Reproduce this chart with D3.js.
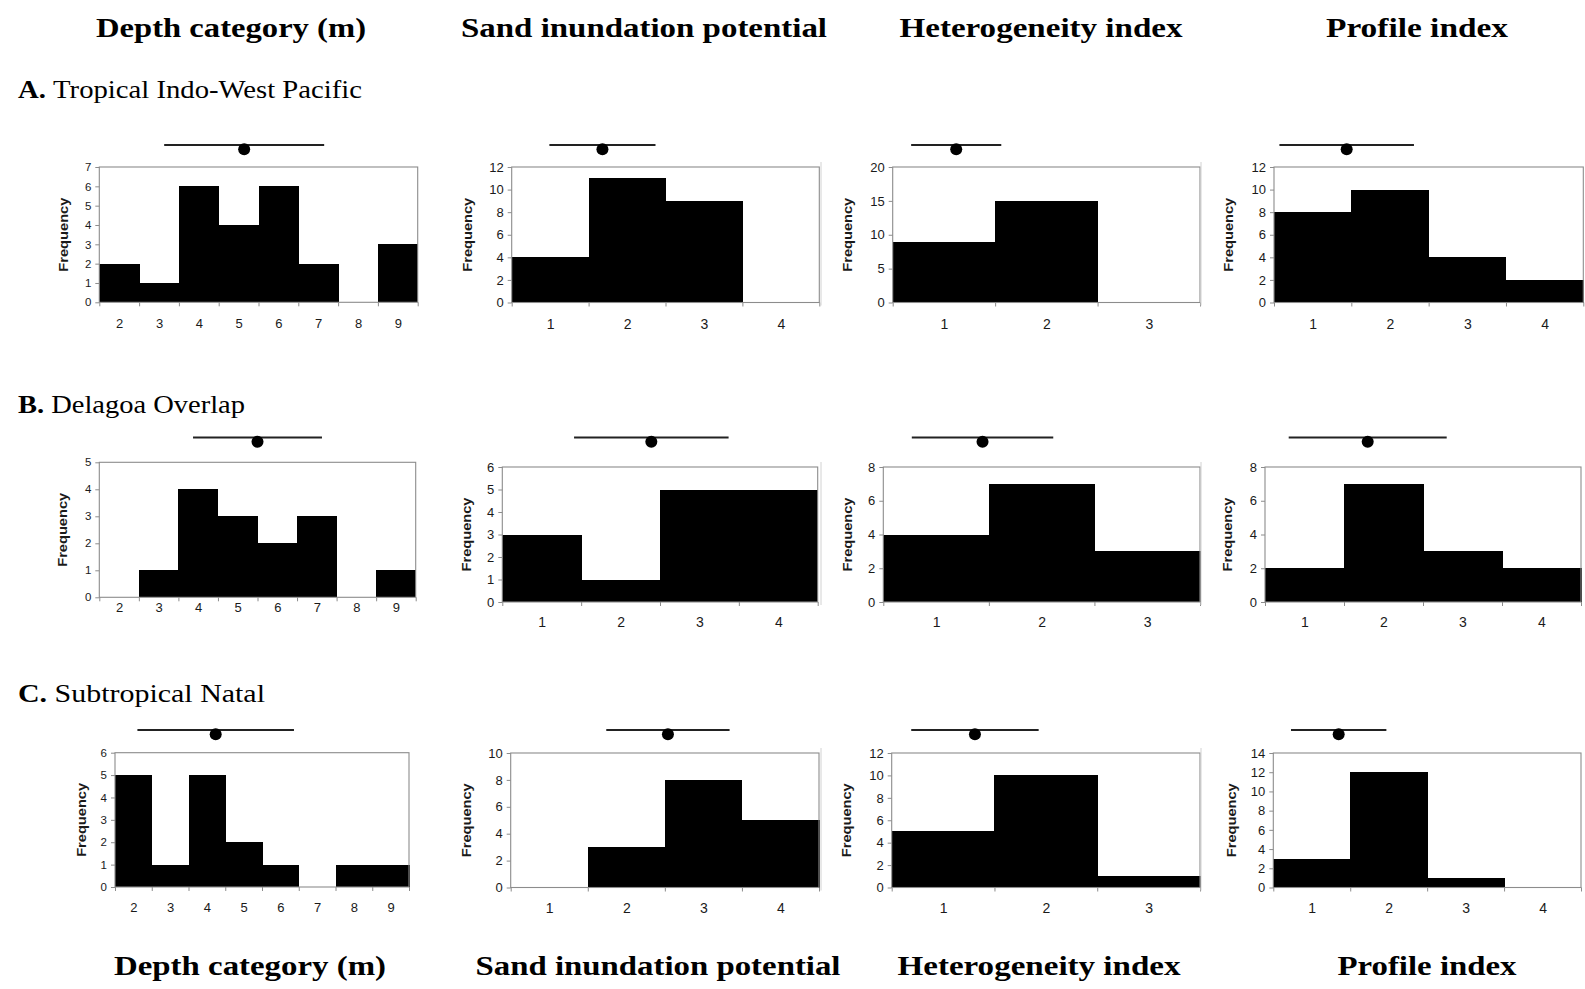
<!DOCTYPE html>
<html>
<head>
<meta charset="utf-8">
<script src="https://cdn.jsdelivr.net/npm/d3@7/dist/d3.min.js"></script>
<style>
  html, body { margin: 0; padding: 0; background: #fff; }
  svg { display: block; }
</style>
</head>
<body>
<svg id="chart" width="1585" height="989"></svg>
<script>
// ---- Data -------------------------------------------------------------
const regionLetters = ["A.", "B.", "C."];
const regionNames = ["Tropical Indo-West Pacific", "Delagoa Overlap", "Subtropical Natal"];
const variableNames = ["Depth category (m)", "Sand inundation potential", "Heterogeneity index", "Profile index"];

const depthCategories = [2, 3, 4, 5, 6, 7, 8, 9];
const sandCategories = [1, 2, 3, 4];
const heteroCategories = [1, 2, 3];
const profileCategories = [1, 2, 3, 4];

// frequencies per region (rows A, B, C)
const depthFreq = [[2, 1, 6, 4, 6, 2, 0, 3], [0, 1, 4, 3, 2, 3, 0, 1], [5, 1, 5, 2, 1, 0, 1, 1]];
const sandFreq = [[4, 11, 9, 0], [3, 1, 5, 5], [0, 3, 8, 5]];
const heteroFreq = [[9, 15, 0], [4, 7, 3], [5, 10, 1]];
const profileFreq = [[8, 10, 4, 2], [2, 7, 3, 2], [3, 12, 1, 0]];

// mean and standard deviation per region
const depthMean = [5.14, 5.50, 4.24];
const depthSD = [2.01, 1.63, 2.13];
const sandMean = [1.68, 2.39, 2.54];
const sandSD = [0.69, 0.98, 0.80];
const heteroMean = [1.12, 1.44, 1.31];
const heteroSD = [0.44, 0.67, 0.62];
const profileMean = [1.44, 1.80, 1.35];
const profileSD = [0.87, 1.00, 0.62];

// y-axis extent and tick step per panel
const yMax = [[7, 12, 20, 12], [5, 6, 8, 8], [6, 10, 12, 14]];
const yStep = [[1, 2, 5, 2], [1, 1, 2, 2], [1, 2, 2, 2]];

// ---- Layout -----------------------------------------------------------
const rowBoxes = [
  { top: 167, bottom: 302.5, barY: 145, cols: [[99.3, 417.7], [511.7, 819.3], [892.7, 1200], [1274, 1583.3]] },
  { top: 467, bottom: 602, barY: 437.5, cols: [[99.3, 415.7], [502.3, 817.7], [883.3, 1200], [1265, 1581]] },
  { top: 753, bottom: 887.5, barY: 730, cols: [[115, 409], [510.7, 819], [891.7, 1200], [1273.3, 1581]] }
];
// per-panel adjustments
const firstColTop = [167, 462.3, 752.7];
const firstColBottom = [302.3, 597.3, 887];
const xLabelGap = [[22, 23, 23, 23], [11, 21, 21, 21], [22, 22, 22, 22]];
const freqOffset = [[36, 44, 45, 45], [37, 36, 36, 37], [33, 44, 45, 42]];
const edgeX = [null, null, 821, 1201];

const svg = d3.select("#chart");

const categories = [depthCategories, sandCategories, heteroCategories, profileCategories];
const freqs = [depthFreq, sandFreq, heteroFreq, profileFreq];
const means = [depthMean, sandMean, heteroMean, profileMean];
const sds = [depthSD, sandSD, heteroSD, profileSD];

// ---- Column headers (top and bottom) ----------------------------------
const topHeaders = [{ c: 231, w: 270 }, { c: 644, w: 366 }, { c: 1041, w: 283 }, { c: 1417, w: 182 }];
const bottomHeaders = [{ c: 250, w: 272 }, { c: 658, w: 365 }, { c: 1039, w: 283 }, { c: 1427, w: 179 }];

function drawHeaders(list, baseline) {
  svg.selectAll(null).data(list).enter().append("text")
    .attr("x", d => d.c - d.w / 2)
    .attr("y", baseline)
    .attr("textLength", d => d.w)
    .attr("lengthAdjust", "spacingAndGlyphs")
    .attr("font-family", "'Liberation Serif', 'Times New Roman', serif")
    .attr("font-weight", "bold")
    .attr("font-size", 28)
    .attr("fill", "#000")
    .text((d, i) => variableNames[i]);
}
drawHeaders(topHeaders, 36.5);
drawHeaders(bottomHeaders, 975);

// ---- Region labels ----------------------------------------------------
const regionLabelPos = [{ y: 98, w: 344 }, { y: 413, w: 227 }, { y: 702, w: 247 }];
regionLabelPos.forEach((p, r) => {
  const t = svg.append("text")
    .attr("x", 18).attr("y", p.y)
    .attr("textLength", p.w)
    .attr("lengthAdjust", "spacingAndGlyphs")
    .attr("font-family", "'Liberation Serif', 'Times New Roman', serif")
    .attr("font-size", 25)
    .attr("fill", "#000");
  t.append("tspan").attr("font-weight", "bold").text(regionLetters[r] + " ");
  t.append("tspan").text(regionNames[r]);
});

// ---- Panels -----------------------------------------------------------
const font = "'Liberation Sans', Arial, sans-serif";

rowBoxes.forEach((row, r) => {
  row.cols.forEach((col, c) => {
    const cats = categories[c];
    const vals = freqs[c][r];
    const top = c === 0 ? firstColTop[r] : row.top;
    const bottom = c === 0 ? firstColBottom[r] : row.bottom;
    const left = col[0], right = col[1];

    const x = d3.scaleLinear()
      .domain([cats[0] - 0.5, cats[cats.length - 1] + 0.5])
      .range([left, right]);
    const y = d3.scaleLinear().domain([0, yMax[r][c]]).range([bottom, top]);

    const g = svg.append("g");

    // faint outer chart-area edge on the right-hand panels
    if (edgeX[c] !== null) {
      g.append("line")
        .attr("x1", edgeX[c]).attr("x2", edgeX[c])
        .attr("y1", top - 5).attr("y2", bottom + 3)
        .attr("stroke", "#d2d2d2").attr("stroke-width", 1);
    }

    // histogram bars
    g.selectAll("rect.bar").data(cats).enter().append("rect")
      .attr("class", "bar")
      .attr("x", d => x(d - 0.5))
      .attr("width", d => x(d + 0.5) - x(d - 0.5) + 0.5)
      .attr("y", (d, i) => y(vals[i]))
      .attr("height", (d, i) => y(0) - y(vals[i]))
      .attr("fill", "#000")
      .attr("shape-rendering", "crispEdges");

    // plot-area frame
    g.append("rect")
      .attr("x", left).attr("y", top)
      .attr("width", right - left).attr("height", bottom - top)
      .attr("fill", "none").attr("stroke", "#8c8c8c").attr("stroke-width", 1.1);

    // y axis
    const ticks = d3.range(0, yMax[r][c] + 0.001, yStep[r][c]);
    const yAxis = g.append("g")
      .attr("transform", `translate(${left},0)`)
      .call(d3.axisLeft(y).tickValues(ticks).tickSize(4).tickPadding(4).tickFormat(d3.format("d")));
    yAxis.select(".domain").remove();
    yAxis.selectAll("line").attr("stroke", "#8c8c8c");
    yAxis.selectAll("text")
      .attr("font-family", font)
      .attr("font-size", c === 0 ? 11.5 : 13)
      .attr("fill", "#1a1a1a");

    // x axis: ticks on bin edges, labels at bin centres
    const edges = d3.range(cats[0] - 0.5, cats[cats.length - 1] + 0.51, 1);
    const xTicks = g.append("g")
      .attr("transform", `translate(0,${bottom})`)
      .call(d3.axisBottom(x).tickValues(edges).tickSize(4).tickFormat(""));
    xTicks.select(".domain").remove();
    xTicks.selectAll("line").attr("stroke", "#8c8c8c");

    const xLabels = g.append("g")
      .attr("transform", `translate(0,${bottom})`)
      .call(d3.axisBottom(x).tickValues(cats).tickSize(0).tickPadding(xLabelGap[r][c] - 6).tickFormat(d3.format("d")));
    xLabels.select(".domain").remove();
    xLabels.selectAll("text")
      .attr("font-family", font)
      .attr("font-size", c === 0 ? 13 : 14)
      .attr("fill", "#1a1a1a");

    // y axis title
    const fx = left - freqOffset[r][c];
    const fy = (top + bottom) / 2;
    g.append("text")
      .attr("transform", `translate(${fx},${fy}) rotate(-90)`)
      .attr("text-anchor", "middle")
      .attr("dy", "0.35em")
      .attr("textLength", 74)
      .attr("lengthAdjust", "spacingAndGlyphs")
      .attr("font-family", font)
      .attr("font-weight", "bold")
      .attr("font-size", 12)
      .attr("fill", "#1a1a1a")
      .text("Frequency");

    // mean ± SD marker above the panel
    const m = means[c][r], s = sds[c][r];
    g.append("line")
      .attr("x1", x(m - s)).attr("x2", x(m + s))
      .attr("y1", row.barY).attr("y2", row.barY)
      .attr("stroke", "#222").attr("stroke-width", 2);
    g.append("circle")
      .attr("cx", x(m)).attr("cy", row.barY + 4.3)
      .attr("r", 6)
      .attr("fill", "#000");
  });
});
</script>
</body>
</html>
